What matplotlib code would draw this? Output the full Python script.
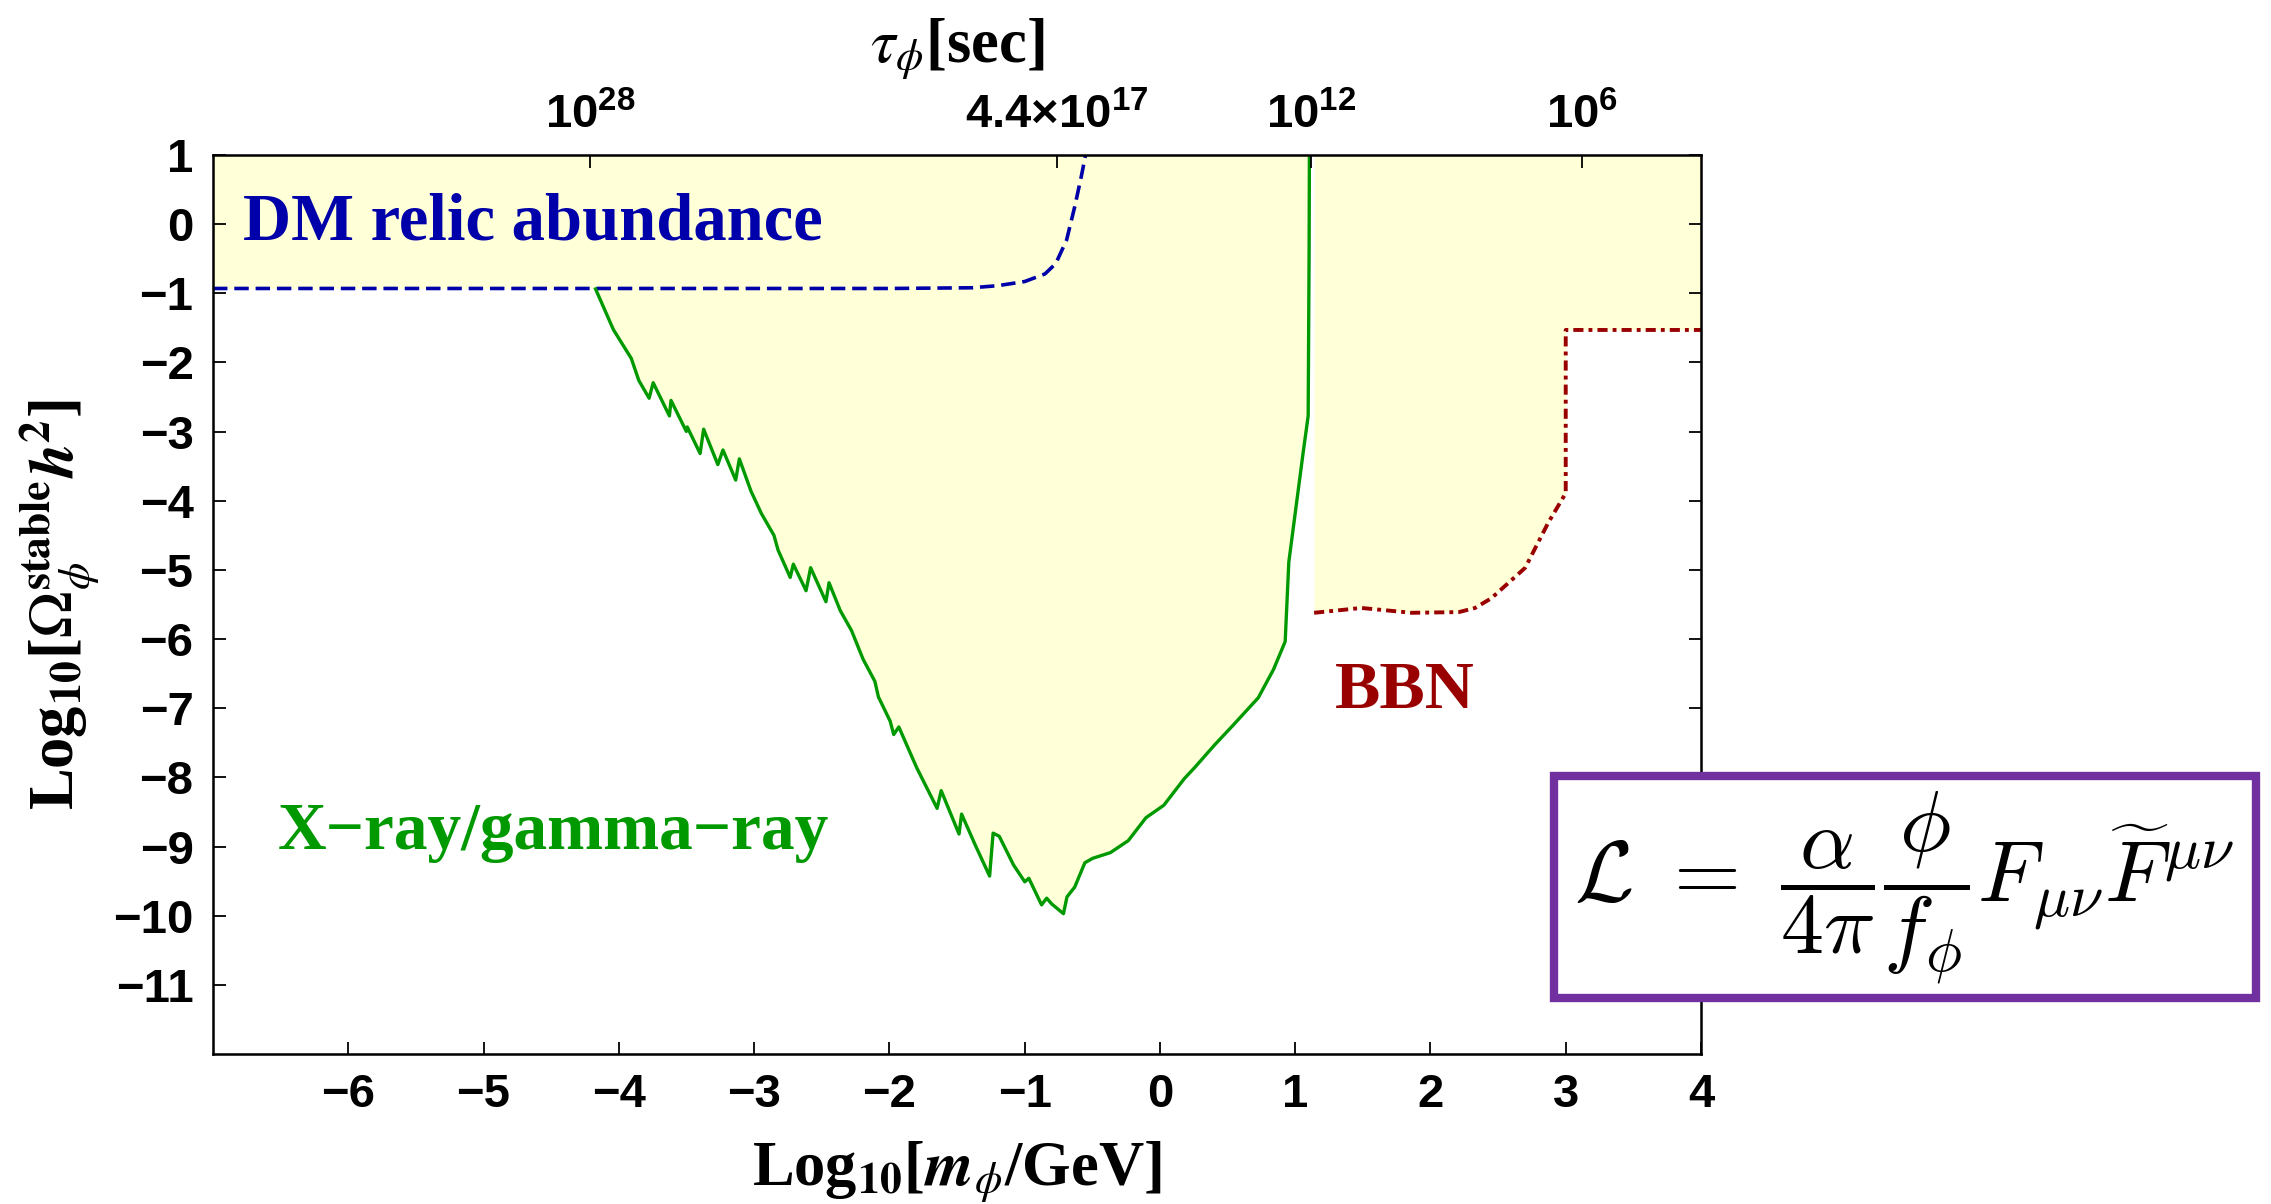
import numpy as np
import matplotlib
matplotlib.use("Agg")
import matplotlib.pyplot as plt
import matplotlib.font_manager as fm
from matplotlib.patches import Rectangle

# DM relic abundance boundary (dashed blue)
dm_x = [-7.0, -4.0, -2.0, -1.39, -1.2, -1.0, -0.85, -0.77, -0.69, -0.63, -0.58, -0.55]
dm_y = [-0.93, -0.93, -0.93, -0.92, -0.89, -0.83, -0.72, -0.57, -0.23, 0.25, 0.7, 1.0]

# X-ray / gamma-ray bound (solid green)
gam_x = [-4.172, -4.040, -3.908, -3.852, -3.776, -3.746, -3.626, -3.614, -3.501, -3.494,
         -3.399, -3.373, -3.268, -3.230, -3.136, -3.109, -3.023, -2.947, -2.853, -2.823,
         -2.733, -2.710, -2.616, -2.582, -2.469, -2.446, -2.363, -2.280, -2.194, -2.107,
         -2.081, -1.994, -1.968, -1.930, -1.798, -1.647, -1.617, -1.485, -1.466, -1.365,
         -1.259, -1.233, -1.188, -1.082, -0.999, -0.969, -0.875, -0.837, -0.800, -0.713,
         -0.687, -0.630, -0.555, -0.498, -0.366, -0.234, -0.103, 0.029, 0.180, 0.256,
         0.406, 0.538, 0.613, 0.727, 0.840, 0.926, 0.953, 1.058, 1.096, 1.103, 1.105]
gam_y = [-0.937, -1.526, -1.941, -2.261, -2.517, -2.293, -2.773, -2.549, -2.997, -2.933,
         -3.317, -2.965, -3.477, -3.266, -3.701, -3.394, -3.861, -4.181, -4.501, -4.712,
         -5.108, -4.917, -5.300, -4.968, -5.460, -5.185, -5.588, -5.876, -6.292, -6.612,
         -6.836, -7.188, -7.380, -7.271, -7.860, -8.448, -8.192, -8.819, -8.531, -8.979,
         -9.427, -8.806, -8.851, -9.267, -9.510, -9.459, -9.843, -9.747, -9.830, -9.971,
         -9.728, -9.587, -9.235, -9.171, -9.088, -8.915, -8.583, -8.403, -8.019, -7.860,
         -7.527, -7.252, -7.092, -6.849, -6.439, -6.036, -4.885, -3.317, -2.773, -0.374, 1.0]

# BBN bound (dash-dot red)
bbn_x = [1.14, 1.49, 1.86, 2.21, 2.33, 2.45, 2.70, 2.87, 3.00, 3.00, 4.00]
bbn_y = [-5.62, -5.55, -5.62, -5.61, -5.55, -5.41, -4.97, -4.32, -3.89, -1.53, -1.53]

# top axis: lifetime in seconds
tau_pos = [-4.21, -0.76, 1.12, 3.12]
tau_labels = [r'$10^{28}$', r'$4.4{\times}10^{17}$', r'$10^{12}$', r'$10^{6}$']

xticks = [-6, -5, -4, -3, -2, -1, 0, 1, 2, 3, 4]
yticks = [1, 0, -1, -2, -3, -4, -5, -6, -7, -8, -9, -10, -11]

names = {f.name for f in fm.fontManager.ttflist}
tick_font = 'Liberation Sans Narrow' if 'Liberation Sans Narrow' in names else 'Liberation Sans'
serif = 'Liberation Serif'

plt.rcParams['mathtext.fontset'] = 'custom'
plt.rcParams['mathtext.rm'] = tick_font + ':bold'
plt.rcParams['mathtext.bf'] = tick_font + ':bold'
plt.rcParams['mathtext.it'] = tick_font + ':bold'

fill_c = '#ffffd8'
blue = '#0000aa'
green = '#009900'
red = '#990000'
purple = '#7030a0'

fig = plt.figure(figsize=(22.71, 12.04), dpi=100)
ax = fig.add_axes([213/2271, 1-1054/1204, (1701-213)/2271, (1054-155)/1204])

ax.fill_between(dm_x, dm_y, 1.0, color=fill_c, lw=0)
ax.fill_between(gam_x, gam_y, 1.0, color=fill_c, lw=0)
ax.fill_between(bbn_x, bbn_y, 1.0, color=fill_c, lw=0)

ax.plot(dm_x, dm_y, color=blue, lw=2.6, dashes=(4.0, 1.9))
ax.plot(gam_x, gam_y, color=green, lw=2.4)
ax.plot(bbn_x, bbn_y, color=red, lw=2.8, dashes=(2.6, 1.3, 1.0, 1.3))

ax.set_xlim(-7, 4)
ax.set_ylim(-12, 1)
ax.set_xticks(xticks)
ax.set_yticks(yticks)
ax.set_xticklabels([f'\u2212{abs(v)}' if v < 0 else str(v) for v in xticks])
ax.set_yticklabels([f'\u2212{abs(v)}' if v < 0 else str(v) for v in yticks])
ax.tick_params(direction='in', length=9, width=1.3, right=True, top=False,
               labelsize=34, pad=14)
for lab in ax.get_xticklabels() + ax.get_yticklabels():
    lab.set_fontfamily(tick_font)
    lab.set_fontweight('bold')
for s in ax.spines.values():
    s.set_linewidth(1.8)

ax2 = ax.twiny()
ax2.set_xlim(-7, 4)
ax2.set_xticks(tau_pos)
ax2.set_xticklabels(tau_labels)
ax2.tick_params(direction='in', length=9, width=1.3, labelsize=34, pad=12)
ax2.set_xlabel(r'$\tau_\phi$[sec]', fontsize=45, family=serif, fontweight='bold',
               labelpad=22, math_fontfamily='stix')

ax.set_xlabel(r'Log$_{\mathbf{10}}$[$\mathbfit{m}_\phi$/GeV]', fontsize=45, family=serif,
              fontweight='bold', labelpad=16, math_fontfamily='stix')
ax.set_ylabel(r'Log$_{\mathbf{10}}$[$\Omega_\phi^{\mathbf{stable}}\mathbfit{h}^{\mathbf{2}}$]',
              fontsize=45, family=serif, fontweight='bold', labelpad=9,
              math_fontfamily='stix')

ax.text(-6.78, 0.02, 'DM relic abundance', color=blue, fontsize=48, family=serif,
        fontweight='bold', va='center', ha='left')
ax.text(-6.52, -8.79, 'X\u2212ray/gamma\u2212ray', color=green, fontsize=48.5, family=serif,
        fontweight='bold', va='center', ha='left')
ax.text(1.29, -6.76, 'BBN', color=red, fontsize=49, family=serif,
        fontweight='bold', va='center', ha='left')

# Lagrangian box
fig.patches.append(Rectangle((1554/2271, 1-998/1204), (2256-1554)/2271, (998-776)/1204,
                             transform=fig.transFigure, facecolor='white',
                             edgecolor=purple, lw=6, zorder=5))
fig.text(1904/2271, 1-888/1204,
         r'$\mathcal{L}\ =\ \dfrac{\alpha}{4\pi}\dfrac{\phi}{f_\phi}F_{\mu\nu}\widetilde{F}^{\mu\nu}$',
         fontsize=62, math_fontfamily='cm', ha='center', va='center', zorder=6)

fig.savefig('out.png', dpi=100)
